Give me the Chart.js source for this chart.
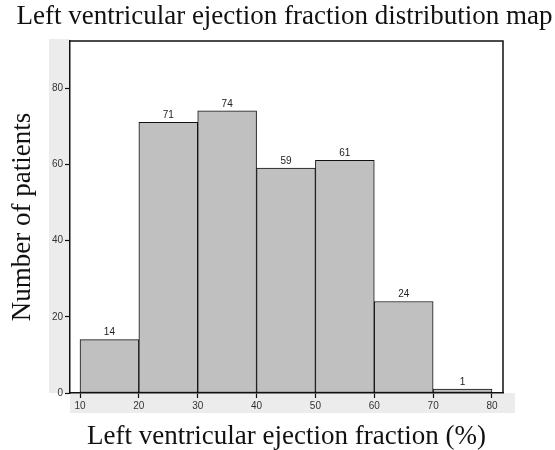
<!DOCTYPE html>
<html>
<head>
<meta charset="utf-8">
<script src="https://cdn.jsdelivr.net/npm/chart.js@4.4.1/dist/chart.umd.min.js"></script>
<style>
  html, body { margin: 0; padding: 0; background: #fff; }
</style>
</head>
<body>
<canvas id="efChart" width="555" height="450"></canvas>
<script>
// ----------------- Data -----------------
const binCenters = [15, 25, 35, 45, 55, 65, 75];
const patientCounts = [14, 71, 74, 59, 61, 24, 1];
const xTickValues = [10, 20, 30, 40, 50, 60, 70, 80];
const yTickValues = [0, 20, 40, 60, 80];

const serif = "'Liberation Serif', 'Times New Roman', serif";
const sans = "'Liberation Sans', Arial, sans-serif";

// ----------------- Plugins -----------------
// grey L-shaped band behind the tick labels + top/right frame
const frameBackground = {
  id: 'frameBackground',
  beforeDraw(chart) {
    const { ctx, chartArea: a } = chart;
    ctx.save();
    ctx.fillStyle = '#ececec';
    ctx.fillRect(a.left - 21, a.top - 2, 21, a.bottom - a.top + 2);
    ctx.fillRect(a.left, a.bottom, a.right - a.left + 12, 20);
    ctx.restore();
  },
  afterDraw(chart) {
    const { ctx, chartArea: a } = chart;
    ctx.save();
    ctx.strokeStyle = '#111';
    ctx.lineWidth = 1.5;
    ctx.beginPath();
    ctx.moveTo(a.left, a.top);
    ctx.lineTo(a.right, a.top);
    ctx.lineTo(a.right, a.bottom);
    ctx.stroke();
    ctx.restore();
  }
};

// count above each bar
const barLabels = {
  id: 'barLabels',
  afterDatasetsDraw(chart) {
    const { ctx } = chart;
    const meta = chart.getDatasetMeta(0);
    ctx.save();
    ctx.font = '10px ' + sans;
    ctx.fillStyle = '#222';
    ctx.textAlign = 'center';
    ctx.textBaseline = 'bottom';
    meta.data.forEach((bar, i) => {
      ctx.fillText(String(patientCounts[i]), bar.x, bar.y - 2);
    });
    ctx.restore();
  }
};

// ----------------- Chart -----------------
const ctx = document.getElementById('efChart').getContext('2d');
const efChart = new Chart(ctx, {
  type: 'bar',
  data: {
    datasets: [{
      label: 'Number of patients',
      data: binCenters.map((x, i) => ({ x: x, y: patientCounts[i] })),
      backgroundColor: '#c0c0c0',
      borderColor: '#111',
      borderWidth: 1,
      borderSkipped: false,
      barPercentage: 1,
      categoryPercentage: 1
    }]
  },
  options: {
    responsive: false,
    animation: false,
    layout: { padding: { left: 14, right: 0, top: 0, bottom: 0 } },
    plugins: {
      legend: { display: false },
      tooltip: { enabled: false },
      title: {
        display: true,
        text: 'Left ventricular ejection fraction distribution map',
        color: '#111',
        font: { family: serif, size: 27, weight: 'normal', lineHeight: 1 },
        padding: { top: 3, bottom: 11 }
      }
    },
    scales: {
      x: {
        type: 'linear',
        min: 8.3,
        max: 81.87,
        offset: false,
        afterBuildTicks: (scale) => { scale.ticks = xTickValues.map(v => ({ value: v })); },
        afterFit: (scale) => { scale.height = 57; },
        grid: { offset: false, drawOnChartArea: false, drawTicks: true, tickLength: 5, tickColor: '#111', tickWidth: 1.2 },
        border: { color: '#111', width: 1.5 },
        ticks: { color: '#333', font: { family: sans, size: 10 }, padding: 2, maxRotation: 0 },
        title: {
          display: true,
          text: 'Left ventricular ejection fraction (%)',
          color: '#111',
          font: { family: serif, size: 27, weight: 'normal', lineHeight: 1 },
          padding: { top: 0, bottom: 0 }
        }
      },
      y: {
        min: 0,
        max: 92.33,
        afterBuildTicks: (scale) => { scale.ticks = yTickValues.map(v => ({ value: v })); },
        afterFit: (scale) => { scale.width = 56; },
        grid: { drawOnChartArea: false, drawTicks: true, tickLength: 5, tickColor: '#111', tickWidth: 1.2 },
        border: { color: '#111', width: 1.5 },
        ticks: { color: '#333', font: { family: sans, size: 10 }, padding: 2 },
        title: {
          display: true,
          text: 'Number of patients',
          color: '#111',
          font: { family: serif, size: 27, weight: 'normal', lineHeight: 1 },
          padding: { top: -4.5, bottom: 0 }
        }
      },
      // empty right-hand axis that only reserves the margin right of the frame
      yRight: {
        position: 'right',
        min: 0,
        max: 92.33,
        afterFit: (scale) => { scale.width = 52; },
        grid: { display: false, drawTicks: false },
        border: { display: false },
        ticks: { display: false }
      }
    }
  },
  plugins: [frameBackground, barLabels]
});
</script>
</body>
</html>
